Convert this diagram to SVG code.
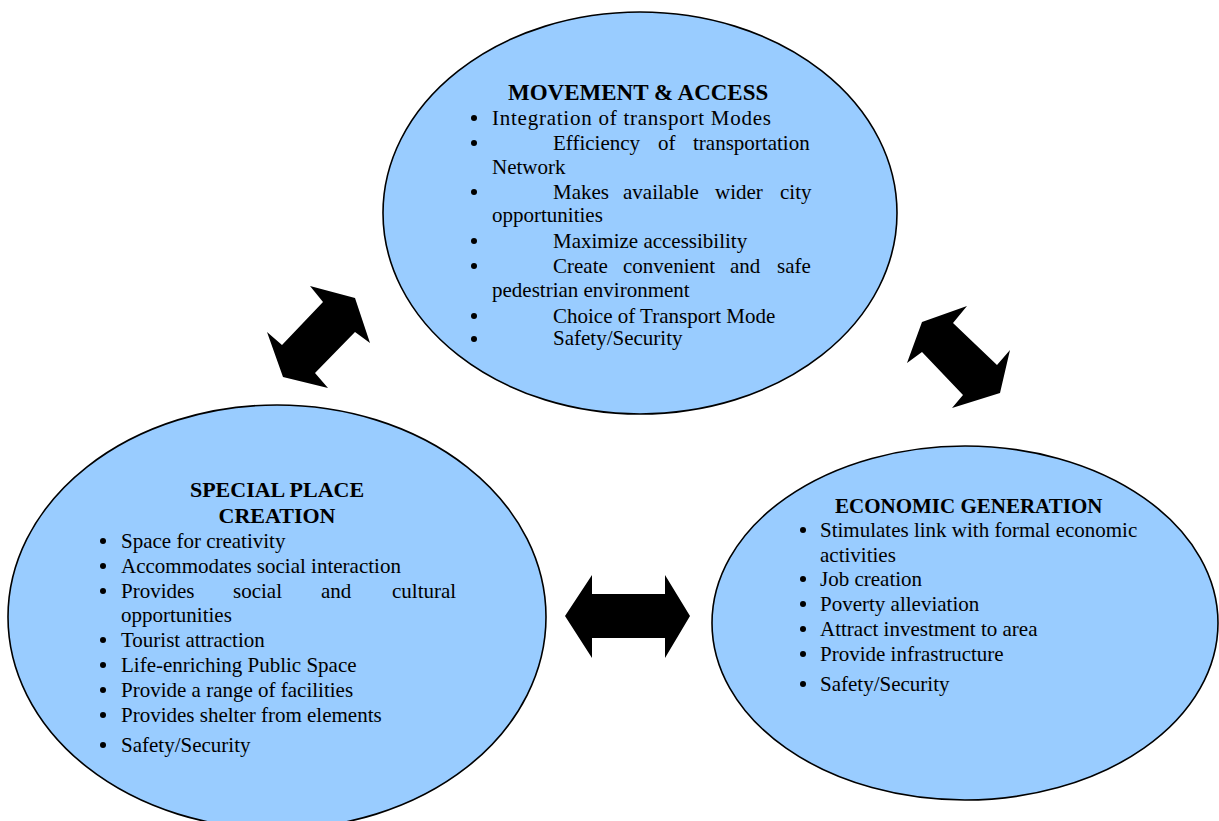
<svg xmlns="http://www.w3.org/2000/svg" width="1219" height="821" viewBox="0 0 1219 821">
<style>
.bub{fill:#99CCFF;stroke:#000;stroke-width:1.6}
.t{font-family:"Liberation Serif","Times New Roman",serif;font-size:21px;fill:#000}
.h{font-family:"Liberation Serif","Times New Roman",serif;font-weight:bold;fill:#000}
.b{fill:#000}
.arr{fill:#000}
</style>
<rect width="1219" height="821" fill="#fff"/>
<g id="movement-access">
<ellipse class="bub" cx="640" cy="213" rx="257" ry="201"/>
<text class="h" x="508" y="100" font-size="23">MOVEMENT &amp; ACCESS</text>
<circle class="b" cx="474" cy="118" r="3"/>
<text class="t" x="492" y="125" textLength="279">Integration of transport Modes</text>
<circle class="b" cx="474" cy="143" r="3"/>
<text class="t" y="150"><tspan x="553">Efficiency</tspan><tspan x="658">of</tspan><tspan x="693">transportation</tspan></text>
<text class="t" x="492" y="174">Network</text>
<circle class="b" cx="474" cy="192" r="3"/>
<text class="t" y="199"><tspan x="553">Makes</tspan><tspan x="623">available</tspan><tspan x="715">wider</tspan><tspan x="780">city</tspan></text>
<text class="t" x="492" y="222">opportunities</text>
<circle class="b" cx="474" cy="241" r="3"/>
<text class="t" x="553" y="248">Maximize accessibility</text>
<circle class="b" cx="474" cy="266" r="3"/>
<text class="t" y="273"><tspan x="553">Create</tspan><tspan x="623">convenient</tspan><tspan x="730">and</tspan><tspan x="777">safe</tspan></text>
<text class="t" x="492" y="297">pedestrian environment</text>
<circle class="b" cx="474" cy="316" r="3"/>
<text class="t" x="553" y="323">Choice of Transport Mode</text>
<circle class="b" cx="474" cy="339" r="3"/>
<text class="t" x="553" y="345">Safety/Security</text>
</g>
<g id="special-place-creation">
<ellipse class="bub" cx="277" cy="617" rx="269" ry="212"/>
<text class="h" x="277" y="497" font-size="22" text-anchor="middle">SPECIAL PLACE</text>
<text class="h" x="277" y="523" font-size="22" text-anchor="middle">CREATION</text>
<circle class="b" cx="103" cy="541" r="3"/>
<text class="t" x="121" y="548">Space for creativity</text>
<circle class="b" cx="103" cy="566" r="3"/>
<text class="t" x="121" y="573">Accommodates social interaction</text>
<circle class="b" cx="103" cy="591" r="3"/>
<text class="t" y="598"><tspan x="121">Provides</tspan><tspan x="233">social</tspan><tspan x="321">and</tspan><tspan x="392">cultural</tspan></text>
<text class="t" x="121" y="622">opportunities</text>
<circle class="b" cx="103" cy="640" r="3"/>
<text class="t" x="121" y="647">Tourist attraction</text>
<circle class="b" cx="103" cy="665" r="3"/>
<text class="t" x="121" y="672">Life-enriching Public Space</text>
<circle class="b" cx="103" cy="690" r="3"/>
<text class="t" x="121" y="697">Provide a range of facilities</text>
<circle class="b" cx="103" cy="715" r="3"/>
<text class="t" x="121" y="722">Provides shelter from elements</text>
<circle class="b" cx="103" cy="745" r="3"/>
<text class="t" x="121" y="752">Safety/Security</text>
</g>
<g id="economic-generation">
<ellipse class="bub" cx="965" cy="623" rx="253" ry="177"/>
<text class="h" x="835" y="513" font-size="21">ECONOMIC GENERATION</text>
<circle class="b" cx="803" cy="530" r="3"/>
<text class="t" x="820" y="537">Stimulates link with formal economic</text>
<text class="t" x="820" y="562">activities</text>
<circle class="b" cx="803" cy="579" r="3"/>
<text class="t" x="820" y="586">Job creation</text>
<circle class="b" cx="803" cy="604" r="3"/>
<text class="t" x="820" y="611">Poverty alleviation</text>
<circle class="b" cx="803" cy="629" r="3"/>
<text class="t" x="820" y="636">Attract investment to area</text>
<circle class="b" cx="803" cy="654" r="3"/>
<text class="t" x="820" y="661">Provide infrastructure</text>
<circle class="b" cx="803" cy="684" r="3"/>
<text class="t" x="820" y="691">Safety/Security</text>
</g>
<g id="connectors">
<polygon class="arr" points="310,286 355,298 370,343 355,332 315,373 328,388 283,377 267,332 282,345 323,302"/>
<polygon class="arr" points="967,306 953,323 997,365 1010,350 1000,393 952,408 963,395 922,352 907,363 922,322"/>
<polygon class="arr" points="565,616 592,575 592,594 665,594 665,575 690,616 665,658 665,638 592,638 592,658"/>
</g>
</svg>
